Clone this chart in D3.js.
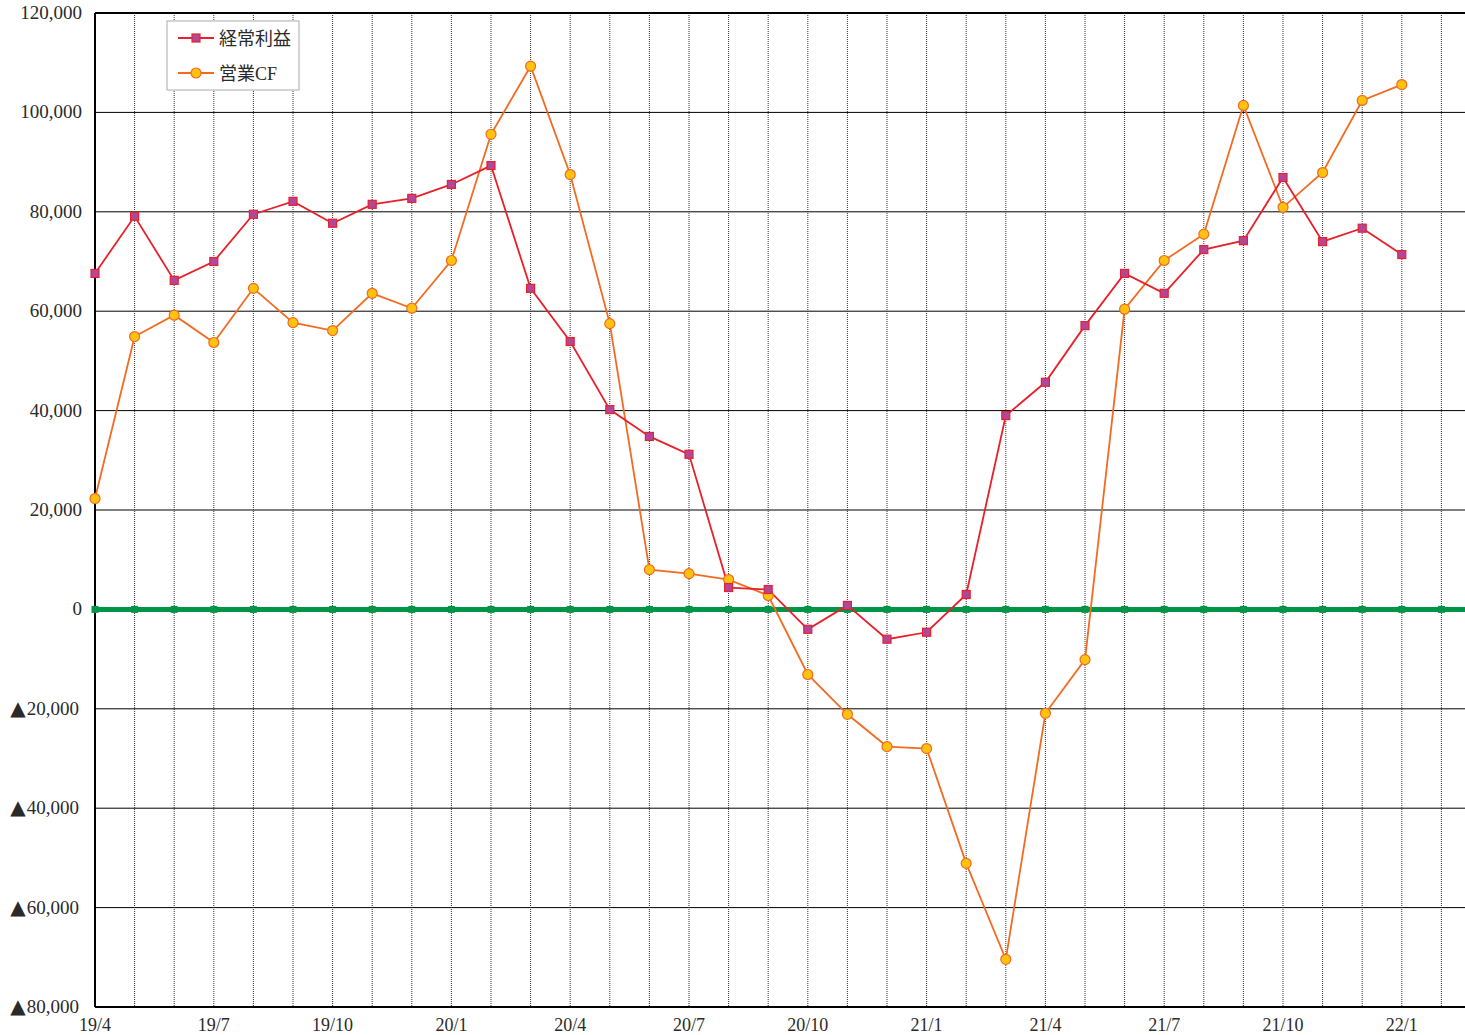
<!DOCTYPE html>
<html>
<head>
<meta charset="utf-8">
<script src="https://cdn.jsdelivr.net/npm/d3@7"></script>
<style>
  body { margin: 0; background: #fff; }
  text { font-family: "Liberation Serif", "DejaVu Serif", "Noto Sans CJK JP", serif; fill: #2a2a2a; }
</style>
</head>
<body>
<svg id="chart" width="1465" height="1035"></svg>
<script>
// months from 19/4 to 22/2
var months = ["19/4","19/5","19/6","19/7","19/8","19/9","19/10","19/11","19/12",
  "20/1","20/2","20/3","20/4","20/5","20/6","20/7","20/8","20/9","20/10","20/11","20/12",
  "21/1","21/2","21/3","21/4","21/5","21/6","21/7","21/8","21/9","21/10","21/11","21/12",
  "22/1","22/2"];

// 経常利益
var keijou = [67600, 79100, 66200, 70000, 79500, 82100, 77700, 81500, 82700,
  85500, 89300, 64600, 53900, 40200, 34800, 31200, 4400, 4000, -4000, 800, -6000,
  -4600, 3000, 39000, 45700, 57100, 67600, 63600, 72400, 74200, 86900, 74000, 76700,
  71400];

// 営業CF
var eigyouCF = [22300, 54900, 59200, 53700, 64600, 57700, 56100, 63600, 60600,
  70200, 95600, 109300, 87500, 57500, 8000, 7200, 6000, 2800, -13100, -21100, -27600,
  -28000, -51100, -70400, -20900, -10100, 60400, 70200, 75500, 101400, 80900, 87900, 102400,
  105600];

// zero baseline series
var zeroLine = months.map(function(){ return 0; });

var yTicks = [-80000, -60000, -40000, -20000, 0, 20000, 40000, 60000, 80000, 100000, 120000];

var svg = d3.select("#chart");
var pLeft = 95, pRight = 1465, pTop = 13, pBottom = 1007;
var step = 39.6;

var x = d3.scaleLinear().domain([0, 1]).range([pLeft, pLeft + step]);
var y = d3.scaleLinear().domain([-80000, 120000]).range([pBottom, pTop]);

var fmt = d3.format(",");

// horizontal grid
svg.append("g").selectAll("line").data(yTicks).enter().append("line")
  .attr("x1", pLeft).attr("x2", pRight)
  .attr("y1", function(d){ return y(d); }).attr("y2", function(d){ return y(d); })
  .attr("stroke", "#000").attr("stroke-width", 1);

// vertical dotted grid
svg.append("g").selectAll("line").data(d3.range(1, months.length)).enter().append("line")
  .attr("x1", function(d){ return x(d); }).attr("x2", function(d){ return x(d); })
  .attr("y1", pTop).attr("y2", pBottom)
  .attr("stroke", "#333").attr("stroke-width", 1).attr("stroke-dasharray", "1,1");

// axes frame
svg.append("line").attr("x1", pLeft).attr("x2", pRight).attr("y1", pTop).attr("y2", pTop)
  .attr("stroke", "#000").attr("stroke-width", 2);
svg.append("line").attr("x1", pLeft).attr("x2", pRight).attr("y1", pBottom).attr("y2", pBottom)
  .attr("stroke", "#000").attr("stroke-width", 2);
svg.append("line").attr("x1", pLeft).attr("x2", pLeft).attr("y1", pTop).attr("y2", pBottom)
  .attr("stroke", "#000").attr("stroke-width", 2);

// y labels (negatives shown with ▲)
var yl = svg.append("g").selectAll("text").data(yTicks).enter().append("text")
  .attr("x", 81).attr("y", function(d){ return y(d) + 6; })
  .attr("text-anchor", "end").attr("font-size", 19);
yl.filter(function(d){ return d < 0; }).append("tspan")
  .attr("font-family", "DejaVu Sans").attr("font-size", 20).attr("dx", -2).text("▲");
yl.append("tspan").attr("dx", 1).text(function(d){ return fmt(Math.abs(d)); });

// x labels every 3 months
svg.append("g").selectAll("text").data(d3.range(0, months.length, 3)).enter().append("text")
  .attr("x", function(d){ return x(d); }).attr("y", 1031)
  .attr("text-anchor", "middle").attr("font-size", 18)
  .text(function(d){ return months[d]; });

// green zero line
svg.append("line").attr("x1", pLeft).attr("x2", pRight)
  .attr("y1", y(0)).attr("y2", y(0))
  .attr("stroke", "#009447").attr("stroke-width", 5);
svg.append("g").selectAll("rect").data(zeroLine).enter().append("rect")
  .attr("x", function(d, i){ return x(i) - 3.5; }).attr("y", function(d){ return y(d) - 3.5; })
  .attr("width", 7).attr("height", 7).attr("fill", "#009447");

var line = d3.line()
  .x(function(d, i){ return x(i); })
  .y(function(d){ return y(d); });

// 営業CF
svg.append("path").attr("d", line(eigyouCF))
  .attr("fill", "none").attr("stroke", "#f26b21").attr("stroke-width", 1.8);
// 経常利益
svg.append("path").attr("d", line(keijou))
  .attr("fill", "none").attr("stroke", "#e8202a").attr("stroke-width", 1.8);

svg.append("g").selectAll("circle").data(eigyouCF).enter().append("circle")
  .attr("cx", function(d, i){ return x(i); }).attr("cy", function(d){ return y(d); })
  .attr("r", 5).attr("fill", "#ffc20e").attr("stroke", "#f26b21").attr("stroke-width", 1.2);

svg.append("g").selectAll("rect").data(keijou).enter().append("rect")
  .attr("x", function(d, i){ return x(i) - 4; }).attr("y", function(d){ return y(d) - 4; })
  .attr("width", 8).attr("height", 8)
  .attr("fill", "#b1479b").attr("stroke", "#e8202a").attr("stroke-width", 1.2);

// legend
var lg = svg.append("g");
lg.append("rect").attr("x", 167).attr("y", 21).attr("width", 132).attr("height", 69)
  .attr("fill", "#fff").attr("stroke", "#aaa").attr("stroke-width", 1);
lg.append("line").attr("x1", 178).attr("x2", 214).attr("y1", 38).attr("y2", 38)
  .attr("stroke", "#e8202a").attr("stroke-width", 1.8);
lg.append("rect").attr("x", 192).attr("y", 34).attr("width", 8).attr("height", 8)
  .attr("fill", "#b1479b").attr("stroke", "#e8202a").attr("stroke-width", 1.2);
lg.append("text").attr("x", 219).attr("y", 45).attr("font-size", 18).text("経常利益");
lg.append("line").attr("x1", 178).attr("x2", 214).attr("y1", 73).attr("y2", 73)
  .attr("stroke", "#f26b21").attr("stroke-width", 1.8);
lg.append("circle").attr("cx", 196).attr("cy", 73).attr("r", 5)
  .attr("fill", "#ffc20e").attr("stroke", "#f26b21").attr("stroke-width", 1.2);
lg.append("text").attr("x", 219).attr("y", 80).attr("font-size", 18).text("営業CF");
</script>
</body>
</html>
